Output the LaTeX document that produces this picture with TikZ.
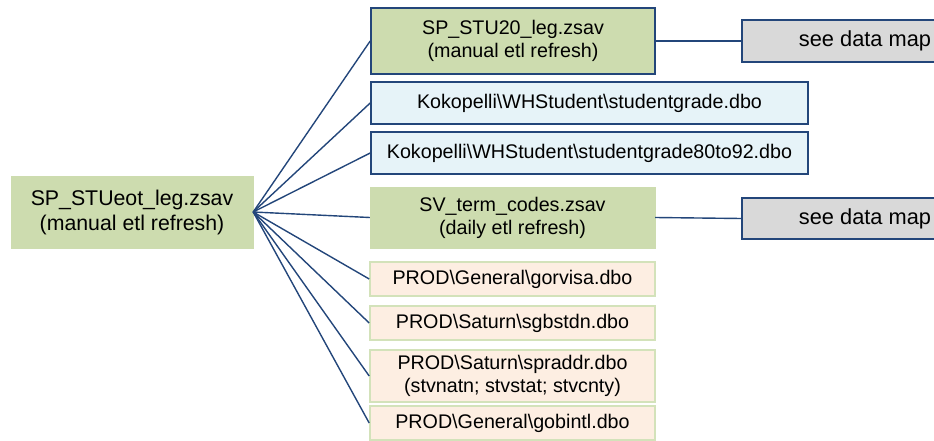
\documentclass[tikz,border=0pt]{standalone}
\usepackage{fontspec}
\setmainfont{Liberation Sans}
\definecolor{etlgreen}{HTML}{CDDCAF}
\definecolor{kokoblue}{HTML}{E6F3F8}
\definecolor{prodpeach}{HTML}{FDEEE2}
\definecolor{prodedge}{HTML}{D3E2BA}
\definecolor{mapgray}{HTML}{D9D9D9}
\definecolor{linkblue}{HTML}{23467A}
\tikzset{
  src/.style={rectangle, align=center, inner sep=0pt, font=\fontsize{19.7}{23}\selectfont},
  zsav/.style={src, fill=etlgreen, draw=etlgreen},
  zsavedge/.style={src, fill=etlgreen, draw=linkblue, line width=1.6pt},
  koko/.style={src, fill=kokoblue, draw=linkblue, line width=1.6pt},
  prod/.style={src, fill=prodpeach, draw=prodedge, line width=1.6pt},
  datamap/.style={src, fill=mapgray, draw=linkblue, line width=1.6pt, font=\fontsize{21.8}{25}\selectfont},
  link/.style={draw=linkblue, line width=1.4pt}
}
\begin{document}
\begin{tikzpicture}[x=1pt, y=-1pt]
        \useasboundingbox (0,0) rectangle (934,441);
        \clip (0,0) rectangle (934,441);
        \node[zsav, minimum width=242pt, minimum height=72pt, font=\fontsize{21.3}{25}\selectfont] (root) at (132,212) {SP\_STUeot\_leg.zsav\\(manual etl refresh)};
        \node[zsavedge, minimum width=284pt, minimum height=66pt] (stu20) at (513,41) {SP\_STU20\_leg.zsav\\(manual etl refresh)};
        \node[koko, minimum width=437pt, minimum height=42pt] (grade) at (589.5,103) {Kokopelli\textbackslash WHStudent\textbackslash studentgrade.dbo};
        \node[koko, minimum width=437pt, minimum height=42pt] (grade92) at (589.5,153) {Kokopelli\textbackslash WHStudent\textbackslash studentgrade80to92.dbo};
        \node[zsav, minimum width=285pt, minimum height=61pt] (term) at (512.5,217.5) {SV\_term\_codes.zsav\\(daily etl refresh)};
        \node[prod, minimum width=285pt, minimum height=34pt] (gorvisa) at (512.5,279) {PROD\textbackslash General\textbackslash gorvisa.dbo};
        \node[prod, minimum width=285pt, minimum height=34pt] (sgbstdn) at (512.5,323) {PROD\textbackslash Saturn\textbackslash sgbstdn.dbo};
        \node[prod, minimum width=285pt, minimum height=52pt] (spraddr) at (512.5,376) {PROD\textbackslash Saturn\textbackslash spraddr.dbo\\(stvnatn; stvstat; stvcnty)};
        \node[prod, minimum width=285pt, minimum height=34pt] (gobintl) at (512.5,423) {PROD\textbackslash General\textbackslash gobintl.dbo};
        \node[datamap, minimum width=246pt, minimum height=42pt] (map1) at (865,41) {see data map};
        \node[datamap, minimum width=246pt, minimum height=41pt] (map2) at (865,218.5) {see data map};
        \foreach \t in {stu20, grade, grade92, term, gorvisa, sgbstdn, spraddr, gobintl}
            \draw[link] (root.east) -- (\t.west);
        \draw[link] (stu20.east) -- (map1.west);
        \draw[link] (term.east) -- (map2.west);
    \end{tikzpicture}
\end{document}
